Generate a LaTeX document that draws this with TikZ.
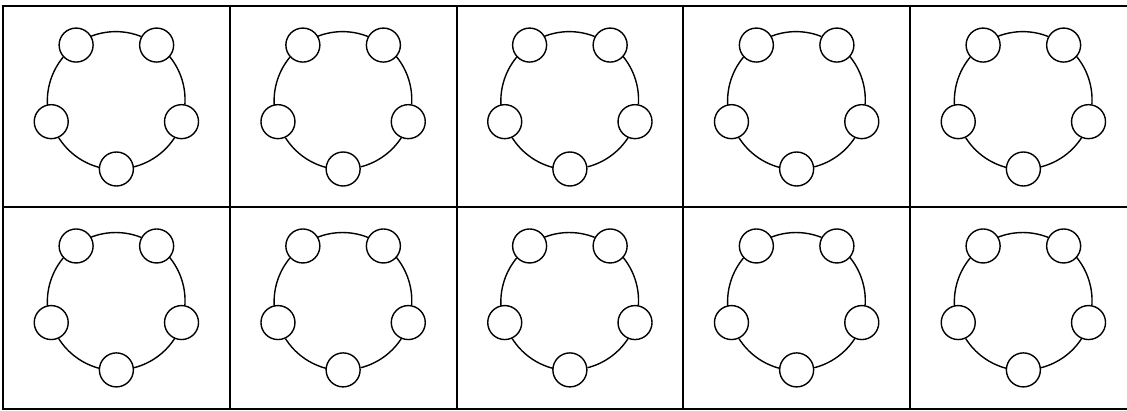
\documentclass[tikz,border=0pt]{standalone}
\begin{document}
\begin{tikzpicture}[x=1pt,y=1pt,
  gridline/.style={line width=2pt},
  dot/.style={circle,draw,line width=1.4pt,minimum size=34pt,inner sep=0pt},
  link/.style={line width=1.4pt}]
\useasboundingbox (0,0) rectangle (1127,410);
% grid
\foreach \y in {403.5,202.7,1.5} \draw[gridline] (2,\y) -- (1140,\y);
\foreach \x in {3,229.75,456.5,683.25,910} \draw[gridline] (\x,1.5) -- (\x,403.5);
% rings
\foreach \i in {0,...,4} {
  \foreach \j in {0,1} {
    \pgfmathsetmacro{\cx}{3+226.75*(\i+0.5)}
    \pgfmathsetmacro{\cy}{309.5-200.9*\j}
    \foreach \k/\a in {0/270,1/342,2/54,3/126,4/198} {
      \node[dot] (n\i\j\k) at ({\cx+68.5*cos(\a)},{\cy+68.5*sin(\a)}) {};
    }
    \foreach \k/\a in {0/270,1/342,2/54,3/126,4/198} {
      \draw[link] (n\i\j\k.{\a+97.13}) arc[start angle=\a+14.26, end angle=\a+57.74, radius=68.5];
    }
  }
}
\end{tikzpicture}
\end{document}
